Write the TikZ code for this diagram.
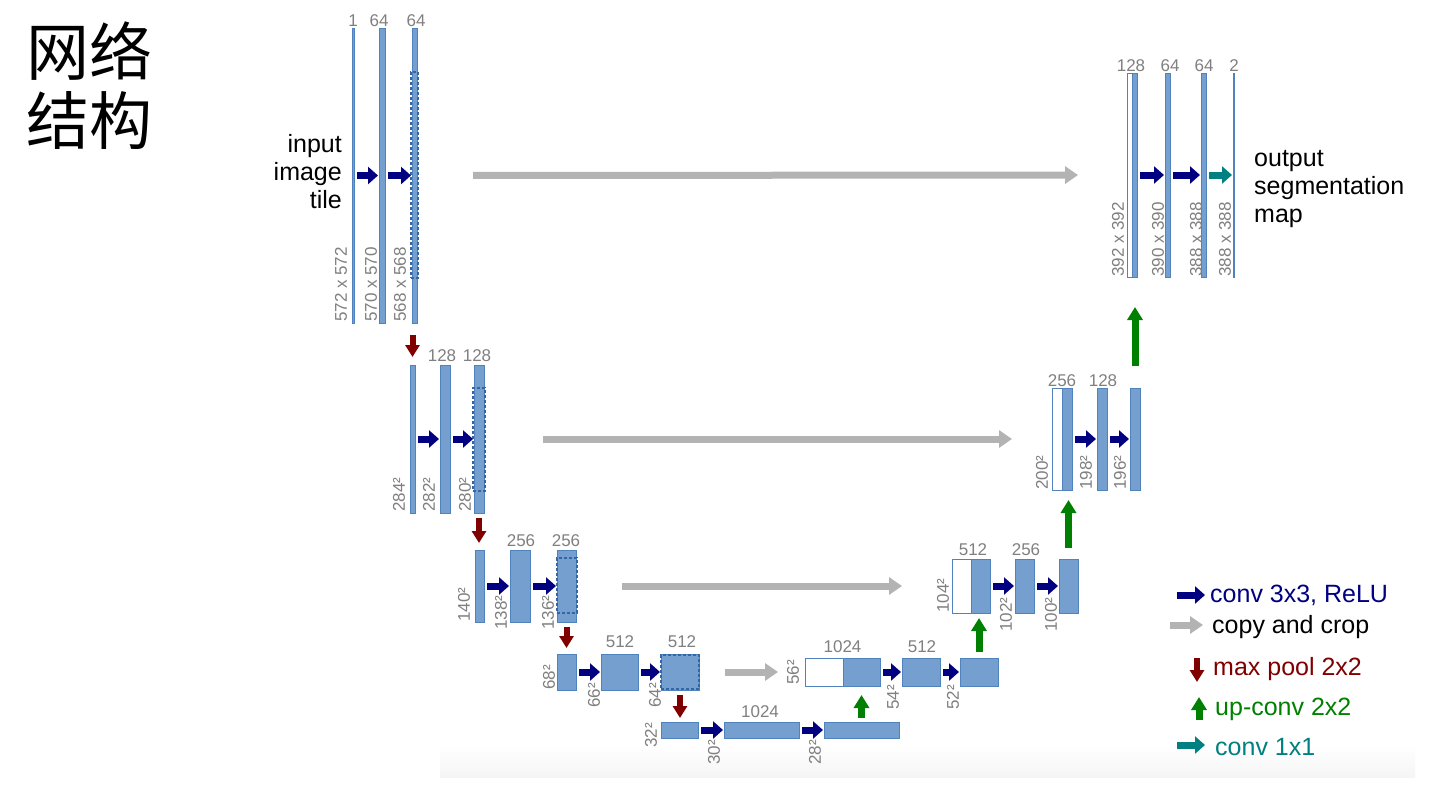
\documentclass[tikz,border=0pt]{standalone}
\usepackage{fontspec}
\setmainfont{Liberation Sans}
\newfontfamily\cjk{Noto Sans CJK SC}
\usetikzlibrary{arrows.meta,calc}
\definecolor{blkfill}{RGB}{116,159,207}
\definecolor{blkdraw}{RGB}{80,130,190}
\definecolor{dashc}{RGB}{52,101,164}
\definecolor{numgray}{RGB}{128,128,128}
\definecolor{convc}{RGB}{0,0,128}
\definecolor{copyc}{RGB}{179,179,179}
\definecolor{poolc}{RGB}{128,0,0}
\definecolor{upc}{RGB}{0,128,0}
\definecolor{onec}{RGB}{0,128,128}
\tikzset{
 blk/.style={draw=blkdraw, fill=blkfill, line width=0.8pt, inner sep=0, outer sep=0, rectangle},
 wblk/.style={draw=blkdraw, fill=white, line width=0.8pt, inner sep=0, outer sep=0, rectangle},
 thinblk/.style={draw=blkdraw, fill=blkfill, line width=0.6pt, inner sep=0, outer sep=0, rectangle},
 cropbox/.style={draw=dashc, line width=1.8pt, dash pattern=on 3pt off 2pt, inner sep=0, outer sep=0, rectangle},
 numlbl/.style={text=numgray, font=\fontsize{17}{17}\selectfont, inner sep=0},
 dimlbl/.style={numlbl, rotate=90, anchor=west},
 convarr/.style={draw=convc, line width=7pt, -{Triangle[length=10pt,width=17pt]}},
 convlink/.style={convarr, shorten <=3pt, shorten >=1pt},
 copyarr/.style={draw=copyc, line width=7pt, -{Triangle[length=13pt,width=17pt]}},
 poolarr/.style={draw=poolc, line width=6pt, -{Triangle[length=12pt,width=14pt]}},
 uparr/.style={draw=upc, line width=7pt, -{Triangle[length=13pt,width=15pt]}},
 onearr/.style={draw=onec, line width=7pt, -{Triangle[length=10pt,width=17pt]}},
 bigtext/.style={font=\fontsize{25}{28}\selectfont, inner sep=0},
 legtext/.style={font=\fontsize{25}{28}\selectfont, inner sep=0, anchor=base west},
 titletext/.style={font=\cjk\fontsize{63}{70}\selectfont, inner sep=0, anchor=west},
}
\newcommand\blk[6][blk]{\node[#1, minimum width={#4-#2}, minimum height={#5-#3}] (#6) at ({(#2+#4)/2},{(#3+#5)/2}) {};}
\begin{document}
\begin{tikzpicture}[x=1pt,y=-1pt]
\useasboundingbox (0,0) rectangle (1430,800);
\fill[white] (0,0) rectangle (1430,800);
\shade[top color=white, bottom color=black!4] (440,745) rectangle (1415,777);

% title
\node[titletext] (t1) at (26,51) {网络};
\node[titletext] (t2) at (26,121) {结构};

% ---------- level 1 ----------
\blk[thinblk]{352.5}{28}{354}{323}{b11}
\blk{379}{28}{385}{323}{b12}
\blk{412}{28}{417}{323}{b13}
\blk[cropbox]{411}{72}{418}{278}{cr1}
\node[numlbl] (n11) at (353,20.5) {1};
\node[numlbl] (n12) at (379,20.5) {64};
\node[numlbl] (n13) at (416,20.5) {64};
\node[dimlbl] (d11) at (341,322) {572 x 572};
\node[dimlbl] (d12) at (371,322) {570 x 570};
\node[dimlbl] (d13) at (400,322) {568 x 568};
\node[bigtext, align=right, anchor=north east] (inp) at (342,134) {input\\image\\tile};

% ---------- level 2 ----------
\blk{410}{365}{415}{513}{b21}
\blk{440}{365}{450}{513}{b22}
\blk{474}{365}{484}{513}{b23}
\blk[cropbox]{473}{388}{485}{491}{cr2}
\node[numlbl] (n22) at (442,356) {128};
\node[numlbl] (n23) at (477,356) {128};
\node[dimlbl] (d21) at (399,512) {284²};
\node[dimlbl] (d22) at (429,512) {282²};
\node[dimlbl] (d23) at (465,512) {280²};

% ---------- level 3 ----------
\blk{475}{550}{484}{622}{b31}
\blk{510}{550}{530}{622}{b32}
\blk{557}{550}{576}{622}{b33}
\blk[cropbox]{557}{558}{577}{613}{cr3}
\node[numlbl] (n32) at (521,541) {256};
\node[numlbl] (n33) at (566,541) {256};
\node[dimlbl] (d31) at (464,622) {140²};
\node[dimlbl] (d32) at (501,630) {138²};
\node[dimlbl] (d33) at (548,630) {136²};

% ---------- level 4 ----------
\blk{557}{654}{576}{690}{b41}
\blk{601}{654}{638}{690}{b42}
\blk{661}{654}{699}{690}{b43}
\blk[cropbox]{661}{655}{699}{689}{cr4}
\node[numlbl] (n42) at (620,641.5) {512};
\node[numlbl] (n43) at (682,641.5) {512};
\node[dimlbl] (d41) at (549,690) {68²};
\node[dimlbl] (d42) at (594,708) {66²};
\node[dimlbl] (d43) at (655,708) {64²};

% ---------- level 5 ----------
\blk{661}{722}{698}{738}{b51}
\blk{724}{722}{799}{738}{b52}
\blk{824}{722}{899}{738}{b53}
\node[numlbl] (n52) at (760,711.5) {1024};
\node[dimlbl] (d51) at (651,748) {32²};
\node[dimlbl] (d52) at (714,765) {30²};
\node[dimlbl] (d53) at (815,765) {28²};

% ---------- up level 4 ----------
\blk[wblk]{805}{658}{843}{686}{w4}
\blk{843}{658}{880}{686}{u41}
\blk{902}{658}{940}{686}{u42}
\blk{960}{658}{998}{686}{u43}
\node[numlbl] (m41) at (842.5,647) {1024};
\node[numlbl] (m42) at (922,647) {512};
\node[dimlbl] (e41) at (793,685) {56²};
\node[dimlbl] (e42) at (893,710) {54²};
\node[dimlbl] (e43) at (953,710) {52²};

% ---------- up level 3 ----------
\blk[wblk]{952}{559}{971}{613}{w3}
\blk{971}{559}{990}{613}{u31}
\blk{1015}{559}{1034}{613}{u32}
\blk{1059}{559}{1078}{613}{u33}
\node[numlbl] (m31) at (973,550) {512};
\node[numlbl] (m32) at (1026,550) {256};
\node[dimlbl] (e31) at (943,613) {104²};
\node[dimlbl] (e32) at (1006,632) {102²};
\node[dimlbl] (e33) at (1051,632) {100²};

% ---------- up level 2 ----------
\blk[wblk]{1052}{388}{1062}{490}{w2}
\blk{1062}{388}{1072}{490}{u21}
\blk{1097}{388}{1107}{490}{u22}
\blk{1130}{388}{1140}{490}{u23}
\node[numlbl] (m21) at (1062,381) {256};
\node[numlbl] (m22) at (1103,381) {128};
\node[dimlbl] (e21) at (1042,490) {200²};
\node[dimlbl] (e22) at (1086,490) {198²};
\node[dimlbl] (e23) at (1120,490) {196²};

% ---------- up level 1 ----------
\blk[wblk]{1127}{73}{1132}{277}{w1}
\blk{1132}{73}{1137}{277}{u11}
\blk{1165}{73}{1170}{277}{u12}
\blk{1201}{73}{1206}{277}{u13}
\blk[thinblk]{1233}{73}{1234.5}{277}{u14}
\node[numlbl] (m11) at (1131,66) {128};
\node[numlbl] (m12) at (1170,66) {64};
\node[numlbl] (m13) at (1204,66) {64};
\node[numlbl] (m14) at (1234,66) {2};
\node[dimlbl] (e11) at (1118,277) {392 x 392};
\node[dimlbl] (e12) at (1158,277) {390 x 390};
\node[dimlbl] (e13) at (1196,277) {388 x 388};
\node[dimlbl] (e14) at (1225,277) {388 x 388};
\node[bigtext, align=left, anchor=north west] (outp) at (1254,150) {output\\segmentation\\map};

% ---------- conv arrows ----------
\draw[convlink] (b11.east) -- (b12.west);
\draw[convlink] (b12.east) -- (b13.west);
\draw[convlink] (b21.east) -- (b22.west);
\draw[convlink] (b22.east) -- (b23.west);
\draw[convlink] (b31.east) -- (b32.west);
\draw[convlink] (b32.east) -- (b33.west);
\draw[convlink] (b41.east) -- (b42.west);
\draw[convlink] (b42.east) -- (b43.west);
\draw[convlink] (b51.east) -- (b52.west);
\draw[convlink] (b52.east) -- (b53.west);
\draw[convlink] (u41.east) -- (u42.west);
\draw[convlink] (u42.east) -- (u43.west);
\draw[convlink] (u31.east) -- (u32.west);
\draw[convlink] (u32.east) -- (u33.west);
\draw[convlink] (u21.east) -- (u22.west);
\draw[convlink] (u22.east) -- (u23.west);
\draw[convlink] (u11.east) -- (u12.west);
\draw[convlink] (u12.east) -- (u13.west);
\draw[onearr, shorten <=3pt, shorten >=1pt] (u13.east) -- (u14.west);

% ---------- copy and crop ----------
\draw[copyarr, shorten <=56pt, shorten >=49pt] (b13.east) -- (w1.west);
\draw[copyarr, shorten <=59pt, shorten >=40pt] (b23.east) -- (w2.west);
\draw[copyarr, shorten <=46pt, shorten >=50pt] (b33.east) -- (w3.west);
\draw[copyarr, shorten <=26pt, shorten >=27pt] (b43.east) -- (w4.west);

% ---------- max pool ----------
\draw[poolarr, shorten <=12pt, shorten >=8pt] (b13.south -| b21.north) -- (b21.north);
\draw[poolarr, shorten <=5pt, shorten >=7pt] (b23.south) -- (b23.south |- b31.north);
\draw[poolarr, shorten <=5pt, shorten >=6pt] (b33.south) -- (b33.south |- b41.north);
\draw[poolarr, shorten <=5pt, shorten >=4pt] (b43.south) -- (b43.south |- b51.north);

% ---------- up-conv ----------
\draw[uparr, shorten <=4pt, shorten >=9pt] (b53.north) -- (b53.north |- u41.south);
\draw[uparr, shorten <=6pt, shorten >=5pt] (u43.north) -- (u43.north |- u31.south);
\draw[uparr, shorten <=11pt, shorten >=10pt] (u33.north) -- (u33.north |- u21.south);
\draw[uparr, shorten <=22pt, shorten >=30pt] (u23.north) -- (u23.north |- u11.south);

% ---------- legend ----------
\coordinate (lc1) at (1177,595); \coordinate (lc2) at (1205,595);
\coordinate (lk1) at (1170,625); \coordinate (lk2) at (1203,625);
\coordinate (lp1) at (1197,658); \coordinate (lp2) at (1197,682);
\coordinate (lu1) at (1199,720); \coordinate (lu2) at (1199,697);
\coordinate (lo1) at (1177,745); \coordinate (lo2) at (1205,745);
\draw[convarr] (lc1) -- (lc2);
\draw[copyarr] (lk1) -- (lk2);
\draw[poolarr] (lp1) -- (lp2);
\draw[uparr] (lu1) -- (lu2);
\draw[onearr] (lo1) -- (lo2);
\node[legtext, text=convc] (g1) at (1210,602) {conv 3x3, ReLU};
\node[legtext, text=black] (g2) at (1212,633) {copy and crop};
\node[legtext, text=poolc] (g3) at (1213,675) {max pool 2x2};
\node[legtext, text=upc] (g4) at (1215,715) {up-conv 2x2};
\node[legtext, text=onec] (g5) at (1215,755) {conv 1x1};
\end{tikzpicture}
\end{document}
